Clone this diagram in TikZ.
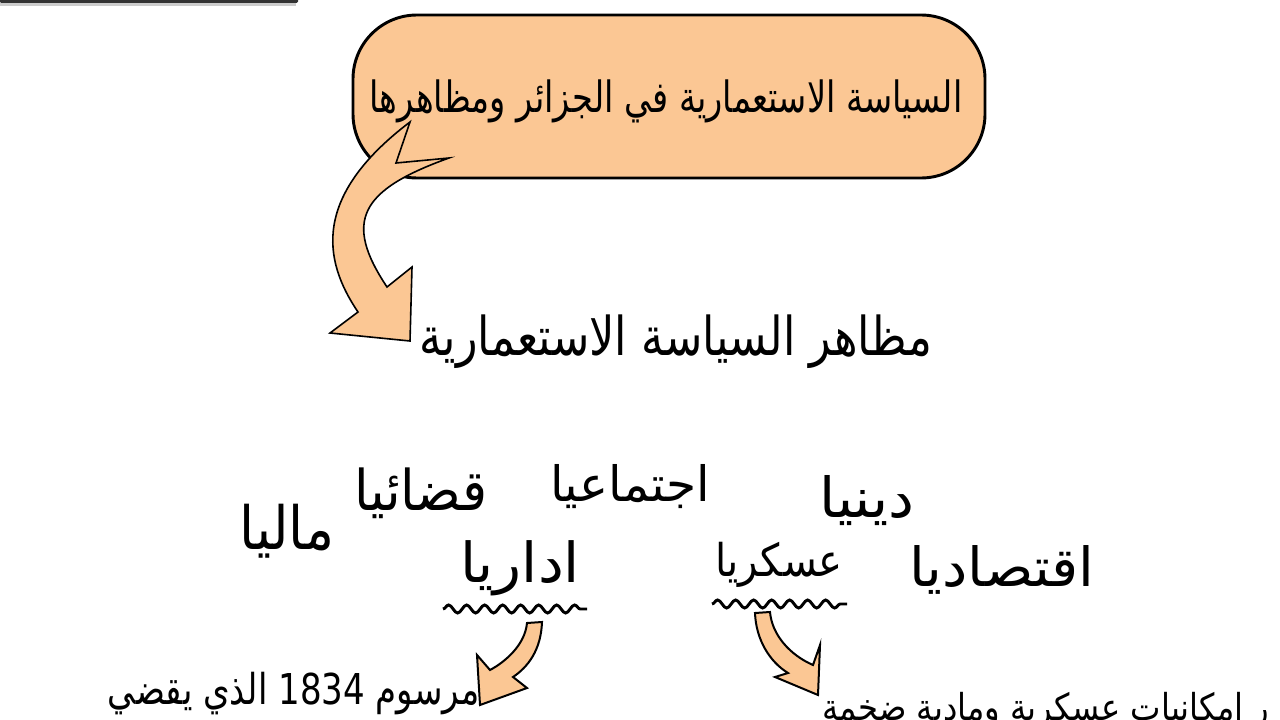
\documentclass[tikz,border=0pt]{standalone}
\usepackage{fontspec}
\usetikzlibrary{decorations.pathmorphing}
\TeXXeTstate=1
\newfontfamily\arabicfont[Script=Arabic]{DejaVu Sans}
\newlength\pxu \setlength\pxu{0.75pt}
% width in px, vertical stretch, text
\newcommand\artext[3]{\scalebox{1}[#2]{\resizebox{#1\pxu}{!}{\arabicfont\fontsize{30}{36}\selectfont\beginR #3\endR}}}
\definecolor{peach}{HTML}{FBC794}
\tikzset{
  arrowshape/.style={fill=peach, draw=black, line width=1.2pt, line join=miter},
  smallarrow/.style={fill=peach, draw=black, line width=1.5pt, line join=miter},
  wavy/.style={draw=black, line width=2.2pt, decorate, decoration={snake, amplitude=3pt, segment length=13.5pt}},
  lbl/.style={inner sep=0pt, anchor=center}
}
\begin{document}
\begin{tikzpicture}[x=0.75pt,y=-0.75pt]
\useasboundingbox (0,0) rectangle (1280,720);
\clip (0,0) rectangle (1280,720);
\fill[white] (0,0) rectangle (1280,720);
% top-left bar with shadow
\fill[black!20] (0,2) rectangle (296,6);
\fill[black!80, rounded corners=1pt] (0,-4) rectangle (298,3);
% title box
\node[draw=black, fill=peach, line width=2.2pt, rounded corners=48pt,
      minimum width=632\pxu, minimum height=163\pxu, inner sep=0pt] (box) at (669,96.5) {};
\node[lbl] (title) at (666,101) {\artext{593}{1.28}{السياسة الاستعمارية في الجزائر ومظاهرها}};
% big curved arrow
\filldraw[arrowshape] (410,122) .. controls (313,195.5) and (322,259) .. (358,312)
  -- (330,333) -- (410,341) -- (412,267) -- (387,287)
  .. controls (343.4,221.6) and (359.3,190.2) .. (449,158) -- (396,163) -- cycle;
% subtitle
\node[lbl] (sub) at (676,342) {\artext{512}{1.2}{مظاهر السياسة الاستعمارية}};
% aspects
\node[lbl] (mali) at (287,531) {\artext{95}{1.1}{ماليا}};
\node[lbl] (qadai) at (421,493) {\artext{133}{1.07}{قضائيا}};
\node[lbl] (ijtimai) at (630,487) {\artext{160}{1.0}{اجتماعيا}};
\node[lbl] (dini) at (867,501) {\artext{95}{0.95}{دينيا}};
\node[lbl] (idari) at (520,568) {\artext{120}{0.95}{اداريا}};
\node[lbl] (askari) at (779,565) {\artext{128}{1.12}{عسكريا}};
\node[lbl] (iqtisadi) at (1002,570) {\artext{185}{0.95}{اقتصاديا}};
% wavy underlines
\draw[wavy] (443,609) -- (587,609);
\draw[wavy] (712,604) -- (847,604);
% small arrows
\filldraw[smallarrow] (527,623) -- (542,622) .. controls (541,650) and (528,667) .. (513,677)
  -- (527,688) -- (480,705) -- (477,655) -- (490,670)
  .. controls (505,662) and (525,645) .. cycle;
\filldraw[smallarrow] (770,612) -- (755,613) .. controls (756,640) and (770,662) .. (788,673)
  -- (775,677) -- (818,695) -- (820,645) -- (813,665)
  .. controls (790,655) and (772,635) .. cycle;
% bottom texts
\node[lbl] (marsum) at (294,694) {\artext{372}{1.25}{مرسوم \beginL 1834\endL{} الذي يقضي}};
\node[lbl] (imkan) at (1046,711) {\artext{447}{1.15}{ر امكانيات عسكرية ومادية ضخمة}};
\end{tikzpicture}
\end{document}
